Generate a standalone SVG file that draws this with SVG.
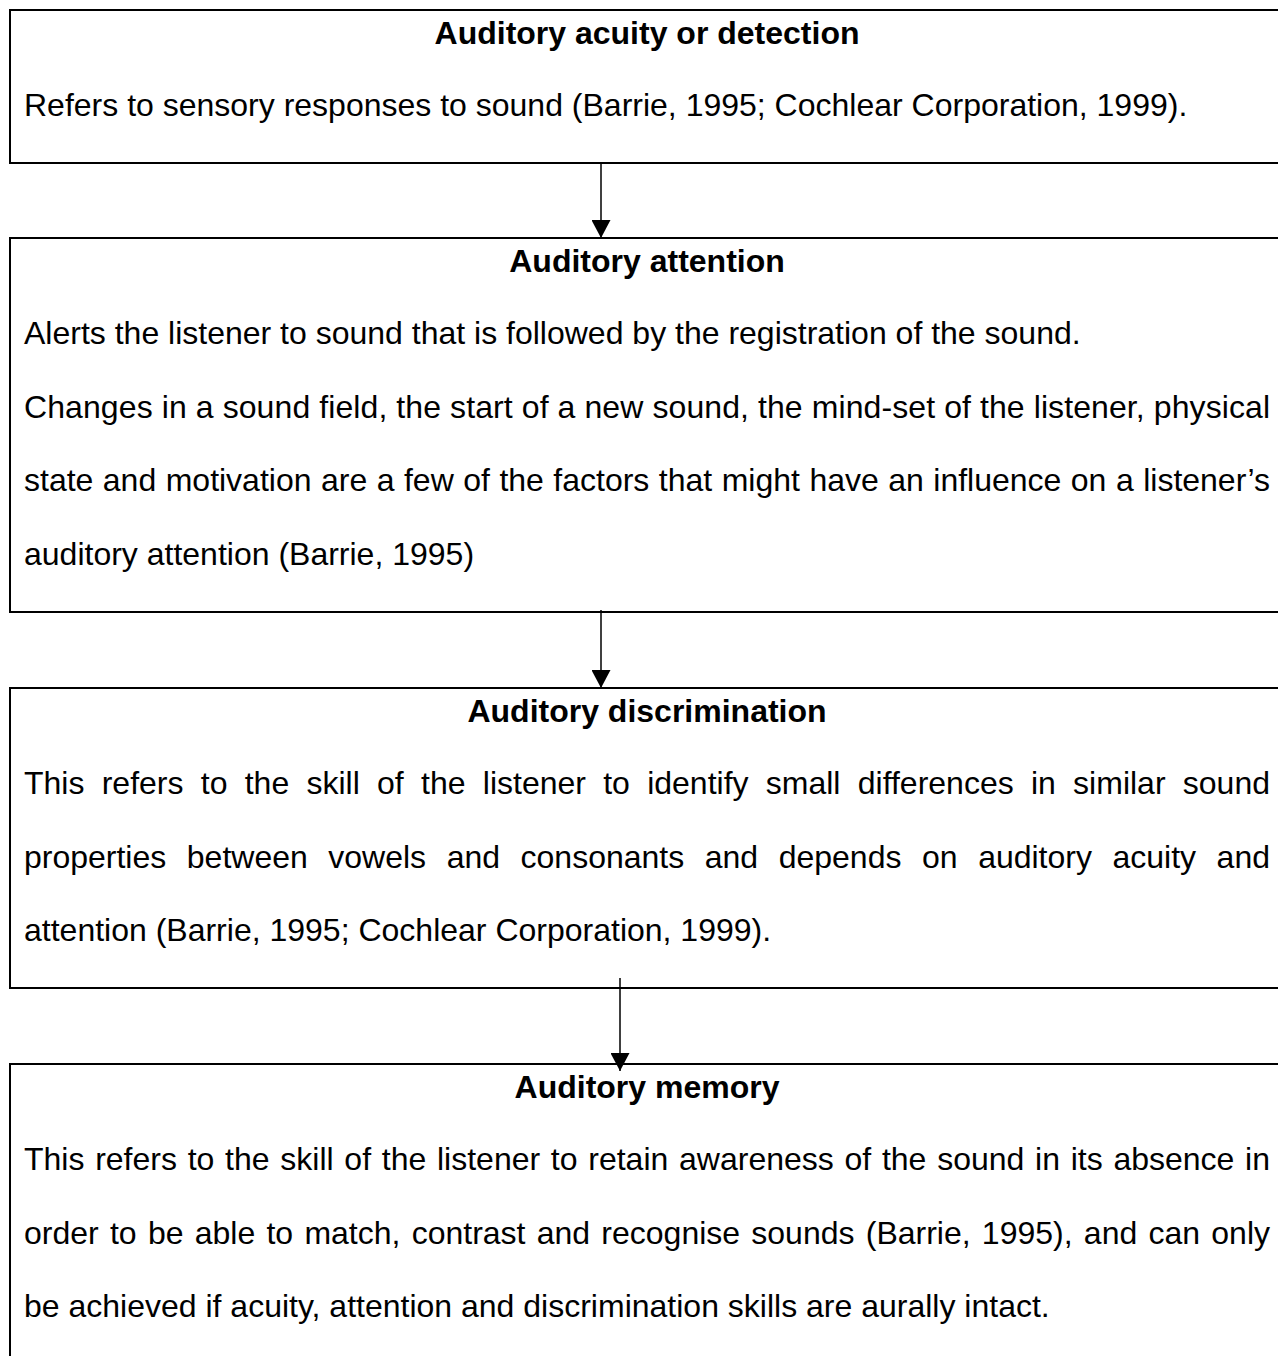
<svg xmlns="http://www.w3.org/2000/svg" width="1278" height="1356" viewBox="0 0 1278 1356">
  <style>
    .box { fill: #ffffff; stroke: #000000; stroke-width: 2; }
    .title { font-family: "Liberation Sans", Arial, sans-serif; font-size: 32px; font-weight: bold; fill: #000000; text-anchor: middle; }
    .body { font-family: "Liberation Sans", Arial, sans-serif; font-size: 32px; fill: #000000; }
    .conn { stroke: #000000; stroke-width: 1.5; fill: none; }
  </style>
  <defs>
    <marker id="ah" markerUnits="userSpaceOnUse" markerWidth="18" markerHeight="19" viewBox="0 0 18 19" refX="18" refY="9.5" orient="auto">
      <path d="M0,0 L18,9.5 L0,19 Z" fill="#000000"/>
    </marker>
  </defs>
  <rect x="0" y="0" width="1278" height="1356" fill="#ffffff"/>

  <g id="node-acuity">
    <rect class="box" x="10" y="10" width="1290" height="153"/>
    <text class="title" x="647" y="44">Auditory acuity or detection</text>
    <text class="body" x="24" y="116">Refers to sensory responses to sound (Barrie, 1995; Cochlear Corporation, 1999).</text>
  </g>

  <g id="node-attention">
    <rect class="box" x="10" y="238" width="1290" height="374"/>
    <text class="title" x="647" y="272">Auditory attention</text>
    <text class="body" x="24" y="344">Alerts the listener to sound that is followed by the registration of the sound.</text>
    <text class="body" x="24" y="417.6" textLength="1246" lengthAdjust="spacing">Changes in a sound field, the start of a new sound, the mind-set of the listener, physical</text>
    <text class="body" x="24" y="491.2" word-spacing="0.6" textLength="1246" lengthAdjust="spacing">state and motivation are a few of the factors that might have an influence on a listener’s</text>
    <text class="body" x="24" y="564.8">auditory attention (Barrie, 1995)</text>
  </g>

  <g id="node-discrimination">
    <rect class="box" x="10" y="688" width="1290" height="300"/>
    <text class="title" x="647" y="722">Auditory discrimination</text>
    <text class="body" x="24" y="794" word-spacing="8.36" textLength="1246" lengthAdjust="spacing">This refers to the skill of the listener to identify small differences in similar sound</text>
    <text class="body" x="24" y="867.6" word-spacing="11.65" textLength="1246" lengthAdjust="spacing">properties between vowels and consonants and depends on auditory acuity and</text>
    <text class="body" x="24" y="941.2">attention (Barrie, 1995; Cochlear Corporation, 1999).</text>
  </g>

  <g id="node-memory">
    <rect class="box" x="10" y="1064" width="1290" height="320"/>
    <text class="title" x="647" y="1098">Auditory memory</text>
    <text class="body" x="24" y="1170" word-spacing="1.84" textLength="1246" lengthAdjust="spacing">This refers to the skill of the listener to retain awareness of the sound in its absence in</text>
    <text class="body" x="24" y="1243.6" word-spacing="2.36" textLength="1246" lengthAdjust="spacing">order to be able to match, contrast and recognise sounds (Barrie, 1995), and can only</text>
    <text class="body" x="24" y="1317.2">be achieved if acuity, attention and discrimination skills are aurally intact.</text>
  </g>

  <g id="connectors">
    <path class="conn" d="M601,163 V238" marker-end="url(#ah)"/>
    <path class="conn" d="M601,610 V688" marker-end="url(#ah)"/>
    <path class="conn" d="M620,978 V1071" marker-end="url(#ah)"/>
  </g>
</svg>
